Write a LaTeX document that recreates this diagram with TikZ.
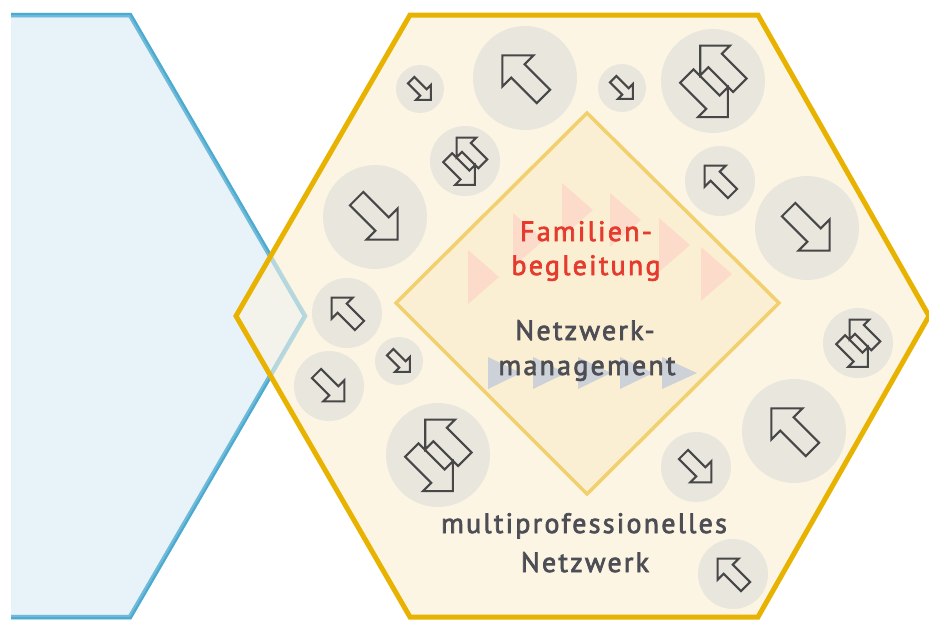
\documentclass[tikz,border=0pt]{standalone}
\usepackage{fontspec}
\setmainfont{PT Sans}
\newfontfamily\labelfont[LetterSpace=8, FakeBold=2.5]{PT Sans}
\usetikzlibrary{positioning}

\definecolor{hexorange}{HTML}{E8B200}
\definecolor{hexcream}{HTML}{FCF5E3}
\definecolor{hexblue}{HTML}{4BAACF}
\definecolor{hexbluefill}{HTML}{E8F2F9}
\definecolor{diafill}{HTML}{FBEFD3}
\definecolor{diastroke}{HTML}{F2D06E}
\definecolor{bubble}{HTML}{E9E6DE}
\definecolor{arrowgray}{HTML}{474747}
\definecolor{pinkish}{HTML}{FDDBCA}
\definecolor{bluegray}{HTML}{CDD1D8}
\definecolor{famred}{HTML}{E53B2F}
\definecolor{textgray}{HTML}{4D4D55}

\tikzset{
  arrowline/.style = {draw=arrowgray, line width=2.1pt},
  onearrow/.pic = {
    \draw[arrowline] (-26,9.5) -- (10,9.5) -- (10,22) -- (32,0) -- (10,-22) -- (10,-9.5) -- (-26,-9.5) -- cycle;
  },
  twoarrow/.pic = {
    \draw[arrowline] (-22,5.5) -- (15,5.5) -- (15,-6) -- (36,15) -- (15,36) -- (15,24.5) -- (-22,24.5) -- cycle;
    \draw[arrowline] (22,-25.5) -- (-13,-25.5) -- (-13,-37) -- (-34,-16) -- (-13,5) -- (-13,-6.5) -- (22,-6.5) -- cycle;
  }
}

\begin{document}
\begin{tikzpicture}[x=1pt, y=-1pt,
    bub/.style = {circle, fill=bubble, inner sep=0pt},
    bubS/.style = {bub, minimum size=48pt},
    bubM/.style = {bub, minimum size=70pt},
    bubL/.style = {bub, minimum size=104pt},
    pinktri/.style = {fill=pinkish},
    graytri/.style = {fill=bluegray},
    lbl/.style = {anchor=base, inner sep=0pt, font=\labelfont\fontsize{28pt}{34pt}\selectfont}]
  \useasboundingbox (0,0) rectangle (929,621);

  % blue hexagon, cut at the left margin
  \begin{scope}
    \clip (11,0) rectangle (929,621);
    \draw[hexblue, line width=4.5pt, fill=hexbluefill] (305,316) -- (130,15) -- (-220,15) -- (-390,316) -- (-220,617) -- (130,617) -- cycle;
    % orange hexagon
    \fill[hexcream] (929,316) -- (758,15) -- (410,15) -- (236,316) -- (410,617) -- (758,617) -- cycle;
    \draw[hexblue, line width=4.5pt, fill=hexbluefill, opacity=0.38] (305,316) -- (130,15) -- (-220,15) -- (-390,316) -- (-220,617) -- (130,617) -- cycle;
    \draw[hexorange, line width=5pt, line join=miter] (929,316) -- (758,15) -- (410,15) -- (236,316) -- (410,617) -- (758,617) -- cycle;
  \end{scope}

  % bubbles
  \node[bubS] (b1) at (420,89) {};
  \node[bubL] (b2) at (525,78) {};
  \node[bubS] (b3) at (622,88) {};
  \node[bubL] (b4) at (713,81) {};
  \node[bubM] (b5) at (465,161) {};
  \node[bubM] (b6) at (720,181) {};
  \node[bubL] (b7) at (375,217) {};
  \node[bubL] (b8) at (807,228) {};
  \node[bubM] (b9) at (347,313) {};
  \node[bubS] (b10) at (399,361) {};
  \node[bubM] (b11) at (329,386) {};
  \node[bubM] (b12) at (858,343) {};
  \node[bubL] (b13) at (438,455) {};
  \node[bubL] (b14) at (794,431) {};
  \node[bubM] (b15) at (696,467) {};
  \node[bubM] (b16) at (733,574) {};

  \pic[rotate=-45, scale=0.48] at (b1) {onearrow};
  \pic[rotate=135] at (b2) {onearrow};
  \pic[rotate=-45, scale=0.48] at (b3) {onearrow};
  \pic[rotate=-45] at (b4) {twoarrow};
  \pic[rotate=-45, scale=0.66] at (b5) {twoarrow};
  \pic[rotate=135, scale=0.68] at (b6) {onearrow};
  \pic[rotate=-45] at (b7) {onearrow};
  \pic[rotate=-45] at (b8) {onearrow};
  \pic[rotate=135, scale=0.68] at (b9) {onearrow};
  \pic[rotate=-45, scale=0.48] at (b10) {onearrow};
  \pic[rotate=-45, scale=0.68] at (b11) {onearrow};
  \pic[rotate=-45, scale=0.66] at (b12) {twoarrow};
  \pic[rotate=-45] at (b13) {twoarrow};
  \pic[rotate=135] at (b14) {onearrow};
  \pic[rotate=-45, scale=0.68] at (b15) {onearrow};
  \pic[rotate=135, scale=0.68] at (b16) {onearrow};

  % inner diamond
  \fill[diafill] (587,113) -- (779,303) -- (587,494) -- (396,303) -- cycle;
  \fill[pinktri] (468,250) -- ++(31,27) -- ++(-31,27) -- cycle;
  \fill[pinktri] (513,213) -- ++(31,27) -- ++(-31,27) -- cycle;
  \fill[pinktri] (562,183) -- ++(31,27) -- ++(-31,27) -- cycle;
  \fill[pinktri] (610,193) -- ++(31,27) -- ++(-31,27) -- cycle;
  \fill[pinktri] (659,218) -- ++(31,27) -- ++(-31,27) -- cycle;
  \fill[pinktri] (701,247) -- ++(31,27) -- ++(-31,27) -- cycle;
  \fill[graytri] (488,357) -- ++(33,16) -- ++(-33,16) -- cycle;
  \fill[graytri] (533,357) -- ++(33,16) -- ++(-33,16) -- cycle;
  \fill[graytri] (578,357) -- ++(33,16) -- ++(-33,16) -- cycle;
  \fill[graytri] (620,357) -- ++(33,16) -- ++(-33,16) -- cycle;
  \fill[graytri] (662,357) -- ++(35,16) -- ++(-35,16) -- cycle;
  \draw[diastroke, line width=3.5pt] (587,113) -- (779,303) -- (587,494) -- (396,303) -- cycle;

  % labels
  \node[lbl, text=famred] (fam) at (586,241) {Familien-};
  \node[lbl, text=famred] (beg) at (586,275) {begleitung};
  \node[lbl, text=textgray] (netz) at (585,340) {Netzwerk-};
  \node[lbl, text=textgray] (mgmt) at (587,375) {management};
  \node[lbl, text=textgray] (multi) at (584,533) {multiprofessionelles};
  \node[lbl, text=textgray] (netzw) at (585,572) {Netzwerk};
\end{tikzpicture}
\end{document}
